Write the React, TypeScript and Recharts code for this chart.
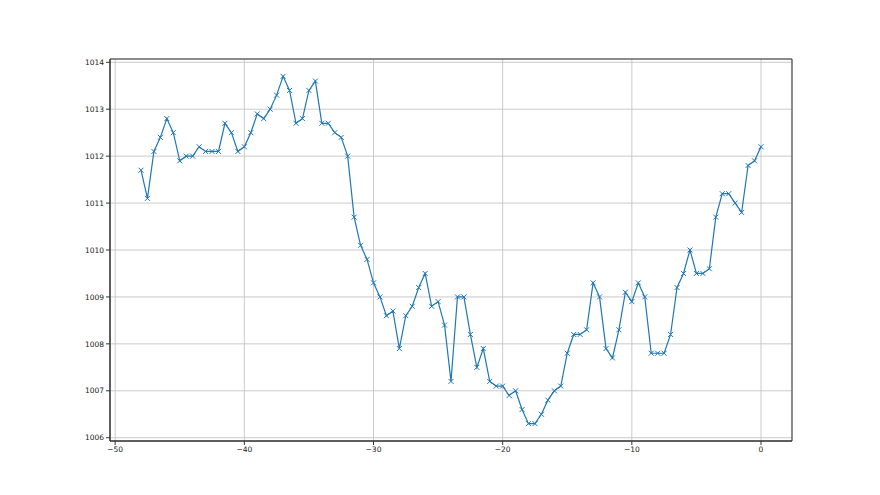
import React from "react";
import {
  LineChart,
  Line,
  XAxis,
  YAxis,
  CartesianGrid,
  ReferenceArea,
} from "recharts";

// x positions (hours) from -48 to 0 every 0.5
const hours: number[] = [
  -48, -47.5, -47, -46.5, -46, -45.5, -45, -44.5, -44, -43.5, -43, -42.5, -42,
  -41.5, -41, -40.5, -40, -39.5, -39, -38.5, -38, -37.5, -37, -36.5, -36,
  -35.5, -35, -34.5, -34, -33.5, -33, -32.5, -32, -31.5, -31, -30.5, -30,
  -29.5, -29, -28.5, -28, -27.5, -27, -26.5, -26, -25.5, -25, -24.5, -24,
  -23.5, -23, -22.5, -22, -21.5, -21, -20.5, -20, -19.5, -19, -18.5, -18,
  -17.5, -17, -16.5, -16, -15.5, -15, -14.5, -14, -13.5, -13, -12.5, -12,
  -11.5, -11, -10.5, -10, -9.5, -9, -8.5, -8, -7.5, -7, -6.5, -6, -5.5, -5,
  -4.5, -4, -3.5, -3, -2.5, -2, -1.5, -1, -0.5, 0,
];

const pressure: number[] = [
  1011.7, 1011.1, 1012.1, 1012.4, 1012.8, 1012.5, 1011.9, 1012.0, 1012.0,
  1012.2, 1012.1, 1012.1, 1012.1, 1012.7, 1012.5, 1012.1, 1012.2, 1012.5,
  1012.9, 1012.8, 1013.0, 1013.3, 1013.7, 1013.4, 1012.7, 1012.8, 1013.4,
  1013.6, 1012.7, 1012.7, 1012.5, 1012.4, 1012.0, 1010.7, 1010.1, 1009.8,
  1009.3, 1009.0, 1008.6, 1008.7, 1007.9, 1008.6, 1008.8, 1009.2, 1009.5,
  1008.8, 1008.9, 1008.4, 1007.2, 1009.0, 1009.0, 1008.2, 1007.5, 1007.9,
  1007.2, 1007.1, 1007.1, 1006.9, 1007.0, 1006.6, 1006.3, 1006.3, 1006.5,
  1006.8, 1007.0, 1007.1, 1007.8, 1008.2, 1008.2, 1008.3, 1009.3, 1009.0,
  1007.9, 1007.7, 1008.3, 1009.1, 1008.9, 1009.3, 1009.0, 1007.8, 1007.8,
  1007.8, 1008.2, 1009.2, 1009.5, 1010.0, 1009.5, 1009.5, 1009.6, 1010.7,
  1011.2, 1011.2, 1011.0, 1010.8, 1011.8, 1011.9, 1012.2,
];

const xTicks: number[] = [-50, -40, -30, -20, -10, 0];
const yTicks: number[] = [1006, 1007, 1008, 1009, 1010, 1011, 1012, 1013, 1014];

const data = hours.map((h, i) => ({ x: h, p: pressure[i] }));

const X_DOMAIN: [number, number] = [-50.4, 2.4];
const Y_DOMAIN: [number, number] = [1005.93, 1014.07];
const BLUE = "#1f77b4";

const XMarker = (props: any) => {
  const { cx, cy, index } = props;
  if (cx == null || cy == null) return <g key={index} />;
  const s = 2.5;
  return (
    <path
      key={index}
      d={`M${cx - s},${cy - s}L${cx + s},${cy + s}M${cx - s},${cy + s}L${cx + s},${cy - s}`}
      stroke={BLUE}
      strokeWidth={1}
      fill="none"
    />
  );
};

const fmt = (v: number) => String(v).replace("-", "\u2212");

const tickStyle = { fontSize: 7.5, fill: "#222", fontFamily: "DejaVu Sans" };

export default function App() {
  return (
    <div style={{ position: "absolute", left: 0, top: 0, background: "#fff" }}>
      <LineChart
        width={880}
        height={495}
        data={data}
        margin={{ top: 59, right: 88, bottom: 34, left: 0 }}
      >
        <CartesianGrid stroke="#c4c4c4" strokeWidth={0.9} />
        <XAxis
          dataKey="x"
          type="number"
          domain={X_DOMAIN}
          ticks={xTicks}
          allowDataOverflow
          height={20}
          tick={tickStyle}
          tickFormatter={fmt}
          tickSize={4}
          tickLine={{ stroke: "#333" }}
          axisLine={{ stroke: "#333" }}
          interval={0}
        />
        <YAxis
          type="number"
          domain={Y_DOMAIN}
          ticks={yTicks}
          allowDataOverflow
          width={110}
          tick={tickStyle}
          tickSize={4}
          tickLine={{ stroke: "#333" }}
          axisLine={{ stroke: "#333" }}
          interval={0}
        />
        <ReferenceArea
          x1={X_DOMAIN[0]}
          x2={X_DOMAIN[1]}
          y1={Y_DOMAIN[0]}
          y2={Y_DOMAIN[1]}
          fill="none"
          stroke="#333"
          strokeWidth={1}
          ifOverflow="visible"
        />
        <Line
          type="linear"
          dataKey="p"
          stroke={BLUE}
          strokeWidth={1.2}
          dot={XMarker}
          activeDot={false}
          isAnimationActive={false}
        />
      </LineChart>
    </div>
  );
}
